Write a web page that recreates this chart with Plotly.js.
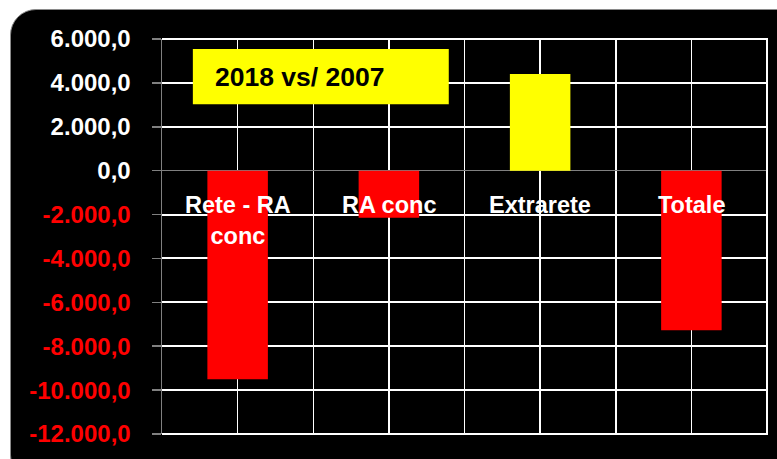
<!DOCTYPE html>
<html>
<head>
<meta charset="utf-8">
<script src="https://cdn.plot.ly/plotly-3.0.1.min.js"></script>
<style>
  html, body { margin: 0; padding: 0; background: #ffffff; overflow: hidden; }
  #frame { position: absolute; left: 10px; top: 9px; width: 800px; height: 470px;
           background: #000000; border-radius: 26px; border: 1px solid #8a8a8a; }
  #chart { position: absolute; left: 0; top: 0; width: 777px; height: 459px; }
</style>
</head>
<body>
<div id="frame"></div>
<div id="chart"></div>
<script>
// Data
var categories = ["Rete - RA conc", "RA conc", "Extrarete", "Totale"];
var catLabels = ["Rete - RA<br>conc", "RA conc", "Extrarete", "Totale"];
var values = [-9500, -2140, 4400, -7270];
var barColors = ["#ff0000", "#ff0000", "#ffff00", "#ff0000"];
var tickVals = [6000, 4000, 2000, 0, -2000, -4000, -6000, -8000, -10000, -12000];
var tickLabels = ["6.000,0", "4.000,0", "2.000,0", "0,0", "-2.000,0", "-4.000,0",
                  "-6.000,0", "-8.000,0", "-10.000,0", "-12.000,0"];
var titleText = "2018 vs/ 2007";

var tickText = tickLabels.map(function (t, i) {
  return tickVals[i] < 0 ? '<span style="color:#ff0000">' + t + '</span>' : t;
});
var catIndex = categories.map(function (c, i) { return i; });

var FONT = "Liberation Sans, Arial, sans-serif";

var traces = [{
  type: "bar",
  x: catIndex,
  y: values,
  text: categories,
  width: 0.4,
  marker: { color: barColors, line: { width: 0 } },
  textposition: "none",
  hoverinfo: "text+y"
}];

var annotations = categories.map(function (c, i) {
  return {
    x: catIndex[i], y: 0, xref: "x", yref: "y",
    xanchor: "center", yanchor: "top", yshift: -19,
    text: catLabels[i], showarrow: false,
    font: { family: FONT, size: 23.5, color: "#ffffff", weight: "bold" }
  };
});
annotations.push({
  x: 0.084, y: 0.905, xref: "paper", yref: "paper",
  xanchor: "left", yanchor: "middle",
  text: titleText, showarrow: false,
  font: { family: FONT, size: 26.5, color: "#000000", weight: "bold" }
});

var layout = {
  width: 777, height: 459,
  margin: { l: 162, r: 10, t: 39, b: 25 },
  paper_bgcolor: "rgba(0,0,0,0)",
  plot_bgcolor: "#000000",
  showlegend: false,
  xaxis: {
    type: "linear", range: [-0.5, 3.5],
    tickmode: "linear", tick0: 0, dtick: 0.5,
    showticklabels: false, ticks: "",
    showgrid: true, gridcolor: "#ffffff", gridwidth: 1.5,
    zeroline: false, showline: false, fixedrange: true
  },
  yaxis: {
    range: [-12000, 6000],
    tickmode: "array", tickvals: tickVals, ticktext: tickText,
    tickfont: { family: FONT, size: 24, color: "#ffffff", weight: "bold" },
    ticks: "outside", ticklen: 9, tickcolor: "#808080", tickwidth: 1.5,
    ticklabelstandoff: 16,
    showgrid: true, gridcolor: "#ffffff", gridwidth: 2,
    zeroline: true, zerolinecolor: "#808080", zerolinewidth: 1.5,
    showline: true, linecolor: "#808080", linewidth: 1.5,
    fixedrange: true
  },
  shapes: [{
    type: "path", xref: "paper", yref: "paper",
    path: "M0,1 L1,1 L1,0 L0,0",
    line: { color: "#ffffff", width: 2 }, layer: "above"
  }, {
    type: "rect", xref: "paper", yref: "paper",
    x0: 0.051, x1: 0.474, y0: 0.835, y1: 0.975,
    fillcolor: "#ffff00", line: { width: 0 }, layer: "above"
  }],
  annotations: annotations
};

Plotly.newPlot("chart", traces, layout, { displayModeBar: false, staticPlot: true });
</script>
</body>
</html>
